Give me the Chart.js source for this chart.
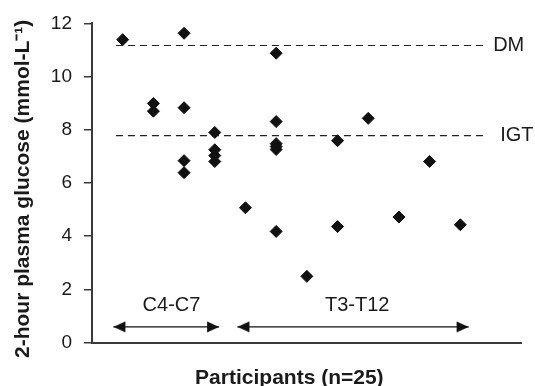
<!DOCTYPE html>
<html>
<head>
<meta charset="utf-8">
<script src="https://cdn.jsdelivr.net/npm/chart.js@4/dist/chart.umd.min.js"></script>
<style>
  html, body { margin: 0; padding: 0; background: #ffffff; }
  #wrap { width: 535px; height: 386px; }
</style>
</head>
<body>
<div id="wrap"><canvas id="c" width="535" height="386"></canvas></div>
<script>
// ---- data ----
const participantX = [1, 2, 2, 3, 3, 3, 3, 4, 4, 4, 4,
                      5, 6, 6, 6, 6, 6, 6, 7, 8, 8, 9, 10, 11, 12];
const glucose2h    = [11.39, 8.99, 8.70, 11.63, 8.83, 6.84, 6.39, 7.90, 7.25, 7.03, 6.81,
                      5.07, 10.88, 8.31, 7.48, 7.37, 7.26, 4.18, 2.49, 7.59, 4.36, 8.43, 4.72, 6.81, 4.43];
const yTicks = [0, 2, 4, 6, 8, 10, 12];
const thresholdNames  = ['DM', 'IGT'];
const thresholdValues = [11.17, 7.78];
const thresholdXRange = [0.78, 12.8];
const thresholdLabelX = [13.07, 13.3];
const groupNames  = ['C4-C7', 'T3-T12'];
const groupStart  = [0.70, 4.74];
const groupEnd    = [4.14, 12.27];
const groupLabelX = [2.59, 8.64];
const groupArrowY = 0.59;
const groupLabelY = 1.39;

const FONT = '"Liberation Sans", Arial, Helvetica, sans-serif';
const INK = '#111111';

// arrowhead image: tip located at image centre, pointing right
function makeArrowHead() {
  const c = document.createElement('canvas');
  c.width = 26; c.height = 12;
  const g = c.getContext('2d');
  g.fillStyle = INK;
  g.beginPath();
  g.moveTo(1, 0.5);
  g.lineTo(13, 6);
  g.lineTo(1, 11.5);
  g.closePath();
  g.fill();
  return c;
}
const arrowHead = makeArrowHead();

const datasets = [];
datasets.push({
  type: 'scatter',
  data: participantX.map((x, i) => ({x: x, y: glucose2h[i]})),
  pointStyle: 'rectRot',
  pointRadius: 6,
  backgroundColor: INK,
  borderColor: INK,
  borderWidth: 1,
  order: 0
});
thresholdValues.forEach((v) => {
  datasets.push({
    type: 'line',
    data: [{x: thresholdXRange[0], y: v}, {x: thresholdXRange[1], y: v}],
    borderColor: '#222',
    borderWidth: 1.2,
    borderDash: [7, 5],
    pointRadius: 0,
    fill: false,
    order: 2
  });
});
groupNames.forEach((n, i) => {
  datasets.push({
    type: 'line',
    data: [{x: groupStart[i], y: groupArrowY}, {x: groupEnd[i], y: groupArrowY}],
    borderColor: INK,
    borderWidth: 1.4,
    pointStyle: [arrowHead, arrowHead],
    pointRotation: [180, 0],
    pointRadius: 6,
    fill: false,
    order: 1
  });
});

const textPlugin = {
  id: 'annotTexts',
  afterDraw(chart) {
    const ctx = chart.ctx;
    const xs = chart.scales.x, ys = chart.scales.y;
    ctx.save();
    ctx.fillStyle = '#1a1a1a';
    ctx.font = '20px ' + FONT;
    ctx.textBaseline = 'middle';
    ctx.textAlign = 'left';
    thresholdNames.forEach((n, i) => {
      ctx.fillText(n, xs.getPixelForValue(thresholdLabelX[i]), ys.getPixelForValue(thresholdValues[i]));
    });
    ctx.textAlign = 'center';
    groupNames.forEach((n, i) => {
      ctx.fillText(n, xs.getPixelForValue(groupLabelX[i]), ys.getPixelForValue(groupLabelY));
    });
    ctx.restore();
  }
};

new Chart(document.getElementById('c'), {
  data: { datasets: datasets },
  options: {
    responsive: false,
    animation: false,
    events: [],
    layout: { padding: { top: 21, right: 13.3, left: 0, bottom: 0 } },
    plugins: { legend: { display: false }, tooltip: { enabled: false } },
    scales: {
      x: {
        type: 'linear',
        min: 0, max: 14,
        grid: { display: false },
        ticks: { display: false },
        border: { display: true, color: '#3a3a3a', width: 2 },
        title: {
          display: true,
          text: 'Participants (n=25)\u00a0\u00a0\u00a0\u00a0\u00a0\u00a0',
          color: '#1a1a1a',
          font: { family: FONT, size: 21, weight: 'bold', lineHeight: 0.76 },
          padding: 0
        },
        afterFit(s) { s.height = 43.4; }
      },
      y: {
        type: 'linear',
        min: 0, max: 12,
        afterBuildTicks(s) { s.ticks = yTicks.map(v => ({value: v})); },
        grid: { drawOnChartArea: false, drawTicks: true, tickLength: 8, color: '#3a3a3a', lineWidth: 1.5 },
        border: { display: true, color: '#3a3a3a', width: 2 },
        ticks: {
          color: '#1a1a1a',
          padding: 12,
          font: { family: FONT, size: 19 }
        },
        title: {
          display: true,
          text: '2-hour plasma glucose (mmol-L\u207B\u00B9)\u00a0\u00a0',
          color: '#1a1a1a',
          font: { family: FONT, size: 21, weight: 'bold', lineHeight: 1.2 },
          padding: { top: 11, bottom: 0 }
        },
        afterFit(s) { s.width = 92; }
      }
    }
  },
  plugins: [textPlugin]
});
</script>
</body>
</html>
